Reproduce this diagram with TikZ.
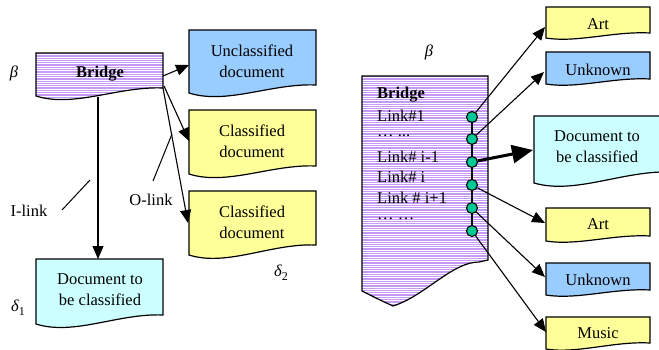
\documentclass[tikz,border=0pt]{standalone}
\usepackage{fontspec}
\setmainfont{Liberation Serif}
\usetikzlibrary{arrows.meta}
\definecolor{ublue}{HTML}{99CCFF}
\definecolor{uyellow}{HTML}{FFFF99}
\definecolor{ucyan}{HTML}{CCFFFF}
\definecolor{upurple}{HTML}{C59AF5}
\definecolor{ugreen}{HTML}{00C896}
% #1 x1, #2 ytop, #3 x2, #4 y bottom-left, #5 y bottom-right, #6 dip
\newcommand\docpath[6]{(#1,#2) -- (#3,#2) -- (#3,#5) .. controls ({#1+0.65*(#3-#1)},{#5-2}) and ({#1+0.3*(#3-#1)},{#4+#6}) .. (#1,#4) -- cycle}
\tikzset{
  box/.style={draw=black, line width=1.2pt, line join=miter},
  txt/.style={font=\fontsize{16.5}{21}\selectfont, align=center, inner sep=0pt},
  ltxt/.style={font=\fontsize{16.5}{21}\selectfont, anchor=west, inner sep=0pt},
  arr/.style={-{Triangle[length=13pt,width=11pt]}, line width=1.1pt},
  thickarr/.style={-{Triangle[length=21pt,width=18pt]}, line width=3pt},
  dot/.style={circle, draw=black, line width=1.1pt, fill=ugreen, inner sep=0pt, minimum size=11pt},
  greek/.style={font=\fontsize{16.5}{20}\selectfont\itshape, inner sep=0pt}
}
\begin{document}
\begin{tikzpicture}[x=1pt,y=-1pt]
\useasboundingbox (0,0) rectangle (659,349);
\clip (0,0) rectangle (659,349);

% ---------- left part ----------
\begin{scope}
  \clip \docpath{36}{53}{163}{96}{88}{12};
  \fill[upurple] (36,53) rectangle (163,105);
  \foreach \yy in {54.6,56.9,...,105} \draw[white, line width=0.75pt] (36,\yy) -- (163,\yy);
\end{scope}
\draw[box] \docpath{36}{53}{163}{96}{88}{12};
\node[txt, font=\fontsize{16.5}{21}\selectfont\bfseries] (lbridge) at (100,74) {Bridge};

\filldraw[box, fill=ublue] \docpath{189}{30}{316}{93}{85}{12};
\node[txt] (uncl) at (252,61) {Unclassified\\document};

\filldraw[box, fill=uyellow] \docpath{189}{110}{316}{174}{166}{12};
\node[txt] (cl1) at (252,141) {Classified\\document};

\filldraw[box, fill=uyellow] \docpath{189}{191}{316}{255}{245}{12};
\node[txt] (cl2) at (252,222) {Classified\\document};

\filldraw[box, fill=ucyan] \docpath{36}{259}{163}{324}{315}{12};
\node[txt] (dleft) at (100,290) {Document to\\be classified};

\node[greek] (betaL) at (14,73) {β};
\node[greek] (delta1) at (18,308) {δ\raisebox{-4pt}{\upshape\fontsize{12}{12}\selectfont 1}};
\node[greek] (delta2) at (281,273) {δ\raisebox{-4pt}{\upshape\fontsize{12}{12}\selectfont 2}};

\coordinate (bR1) at (163,76);
\coordinate (bR2) at (164,86);
\coordinate (bR3) at (163,88);
\coordinate (tUncl) at (189,65);
\coordinate (tCl1) at (189,141);
\coordinate (tCl2) at (188,223);
\coordinate (bBot) at (98,97);
\coordinate (tDl) at (98,259);
\draw[arr] (bR1) -- (tUncl);
\draw[arr] (bR2) -- (tCl1);
\draw[arr] (bR3) -- (tCl2);
\draw[arr] (bBot) -- (tDl);

\node[txt] (ilink) at (29,211) {I-link};
\node[txt] (olink) at (151,200) {O-link};
\coordinate (iA) at (62,210);
\coordinate (iB) at (90,180);
\coordinate (oA) at (153,181);
\coordinate (oB) at (172,134);
\draw[line width=1pt] (iA) -- (iB);
\draw[line width=1pt] (oA) -- (oB);

% ---------- right part ----------
\begin{scope}
  \clip (362,76) -- (488,76) -- (488,260) -- (479,262) .. controls (452,262) and (425,296) .. (393,306) .. controls (380,300) .. (362,291) -- cycle;
  \fill[upurple] (362,76) rectangle (488,310);
  \foreach \yy in {77.6,79.9,...,310} \draw[white, line width=0.75pt] (362,\yy) -- (488,\yy);
\end{scope}
\draw[box] (362,76) -- (488,76) -- (488,260) -- (479,262) .. controls (452,262) and (425,296) .. (393,306) .. controls (380,300) .. (362,291) -- cycle;

\node[greek] (betaR) at (429,52) {β};

\node[ltxt, font=\fontsize{16.5}{21}\selectfont\bfseries] (rb0) at (377,95) {Bridge};
\node[ltxt] (rb1) at (377,116) {Link\#1};
\node[ltxt] (rb2) at (377,136) {… ...};
\node[ltxt] (rb3) at (377,157) {Link\# i-1};
\node[ltxt] (rb4) at (377,177) {Link\# i};
\node[ltxt] (rb5) at (377,198) {Link \# i+1};
\node[ltxt] (rb6) at (377,219) {… …};

\draw[line width=1.1pt] (472,117) -- (472,231);
\node[dot] (c1) at (472,117) {};
\node[dot] (c2) at (472,139) {};
\node[dot] (c3) at (472,162) {};
\node[dot] (c4) at (472,185) {};
\node[dot] (c5) at (472,208) {};
\node[dot] (c6) at (472,231) {};

\filldraw[box, fill=uyellow] \docpath{546}{7}{650}{38}{33}{5};
\node[txt] (art1) at (598,24) {Art};
\filldraw[box, fill=ublue] \docpath{546}{52}{650}{84}{79}{5};
\node[txt] (unk1) at (598,70) {Unknown};
\filldraw[box, fill=ucyan] \docpath{534}{116}{672}{183}{172}{12};
\node[txt] (dright) at (597,147) {Document to\\be classified};
\filldraw[box, fill=uyellow] \docpath{546}{208}{650}{241}{236}{5};
\node[txt] (art2) at (598,224) {Art};
\filldraw[box, fill=ublue] \docpath{546}{263}{650}{295}{290}{5};
\node[txt] (unk2) at (598,280) {Unknown};
\filldraw[box, fill=uyellow] \docpath{546}{317}{650}{349}{343}{5};
\node[txt] (music) at (598,333) {Music};

\coordinate (tArt1) at (545,27);
\coordinate (tUnk1) at (544,72);
\coordinate (tDr) at (533,150);
\coordinate (tArt2) at (545,223);
\coordinate (tUnk2) at (545,277);
\coordinate (tMus) at (546,332);
\draw[arr] (c1) -- (tArt1);
\draw[arr] (c2) -- (tUnk1);
\draw[thickarr] (c3) -- (tDr);
\draw[arr] (c4) -- (tArt2);
\draw[arr] (c5) -- (tUnk2);
\draw[arr] (c6) -- (tMus);
\end{tikzpicture}
\end{document}
